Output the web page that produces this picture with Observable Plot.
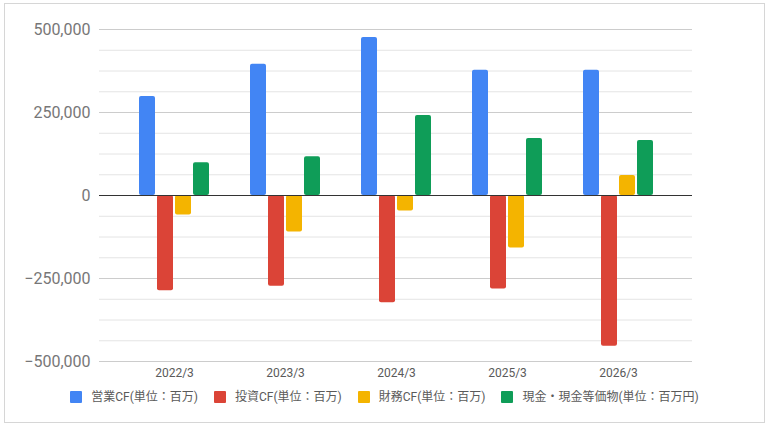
<!DOCTYPE html>
<html>
<head>
<meta charset="utf-8">
<script src="https://cdn.jsdelivr.net/npm/d3@7"></script>
<script src="https://cdn.jsdelivr.net/npm/@observablehq/plot@0.6"></script>
<style>
  html, body { margin: 0; padding: 0; background: #fff; }
  body { width: 769px; height: 428px; position: relative; overflow: hidden; font-family: Roboto, "Noto Sans CJK JP", sans-serif; }
  #frame { position: absolute; left: 4px; top: 3px; width: 761px; height: 420px; box-sizing: border-box; border: 1px solid #d6d6d6; }
  #chart { position: absolute; left: 0; top: 0; }
  #chart svg [aria-label^="y-axis"] text { font-size: 16px; fill: #777; }
  #chart svg [aria-label^="x-axis"] text { font-size: 12px; fill: #5a5a5a; }
  #legend { position: absolute; left: 0; top: 390px; width: 769px; display: flex; justify-content: center; align-items: center; font-size: 12px; color: #5a5a5a; line-height: 14px; }
  .item { display: flex; align-items: center; margin: 0 8px; }
  .sw { width: 12px; height: 12px; margin-right: 9px; border-radius: 1px; }
</style>
</head>
<body>
<div id="frame"></div>
<div id="chart"></div>
<div id="legend"></div>
<script>
const years = ["2022/3", "2023/3", "2024/3", "2025/3", "2026/3"];
const seriesNames = ["営業CF(単位：百万)", "投資CF(単位：百万)", "財務CF(単位：百万)", "現金・現金等価物(単位：百万円)"];
const seriesColors = ["#4285F4", "#DB4437", "#F4B400", "#0F9D58"];
const operatingCF = [298000, 395000, 476000, 377000, 377000];
const investingCF = [-287000, -273000, -323000, -282000, -454000];
const financingCF = [-59000, -110000, -47000, -158000, 60000];
const cashEq = [99000, 117000, 241000, 172000, 166000];
const majorTicks = [-500000, -250000, 0, 250000, 500000];
const minorTicks = [-437500, -375000, -312500, -187500, -125000, -62500, 62500, 125000, 187500, 312500, 375000, 437500];

const seriesValues = [operatingCF, investingCF, financingCF, cashEq];
const rowsBySeries = seriesValues.map((vals, i) =>
  years.map((y, j) => ({year: y, series: seriesNames[i], value: vals[j]}))
);

const barW = 16, barStep = 18, groupW = 70;
const barMarks = rowsBySeries.map((rows, i) =>
  Plot.barY(rows, {
    x: "year", y: "value", fill: seriesColors[i], rx: 2,
    insetLeft: barStep * i, insetRight: groupW - barStep * i - barW
  })
);

const chart = Plot.plot({
  width: 769,
  height: 385,
  marginLeft: 99,
  marginRight: 77,
  marginTop: 29,
  marginBottom: 24,
  style: {fontFamily: "Roboto, 'Noto Sans CJK JP', sans-serif", fontSize: "12px", background: "transparent", overflow: "visible"},
  x: {domain: years, paddingInner: 0.37, paddingOuter: 0.35, tickSize: 0, tickPadding: 7, label: null},
  y: {domain: [-500000, 500000], ticks: majorTicks, tickFormat: d3.format(","), tickSize: 0, tickPadding: 9, label: null},
  marks: [
    Plot.ruleY(minorTicks, {stroke: "#e4e4e4", strokeWidth: 1}),
    Plot.ruleY(majorTicks.filter(d => d !== 0), {stroke: "#cccccc", strokeWidth: 1}),
    ...barMarks,
    Plot.ruleY([0], {stroke: "#333333", strokeWidth: 1})
  ]
});
document.getElementById("chart").appendChild(chart);

const legend = document.getElementById("legend");
seriesNames.forEach((name, i) => {
  const item = document.createElement("div");
  item.className = "item";
  const sw = document.createElement("div");
  sw.className = "sw";
  sw.style.background = seriesColors[i];
  const label = document.createElement("span");
  label.textContent = name;
  item.appendChild(sw);
  item.appendChild(label);
  legend.appendChild(item);
});
</script>
</body>
</html>
